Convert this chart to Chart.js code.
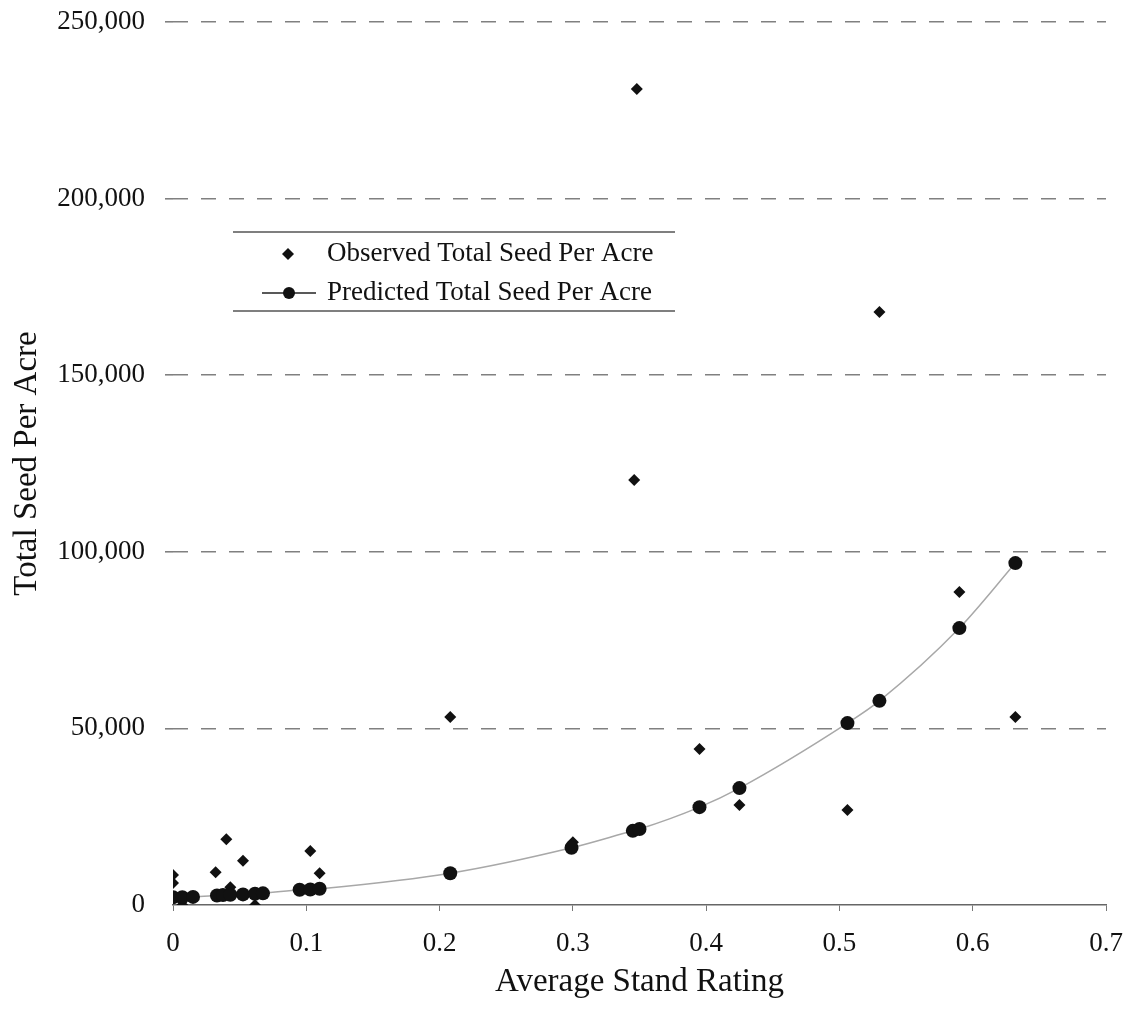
<!DOCTYPE html>
<html>
<head>
<meta charset="utf-8">
<title>Total Seed Per Acre</title>
<script src="https://cdn.jsdelivr.net/npm/chart.js@4.4.1/dist/chart.umd.min.js"></script>
<style>
    html, body { margin: 0; padding: 0; background: #ffffff; }
    #wrap { width: 1134px; height: 1015px; }
</style>
</head>
<body>
<div id="wrap"><canvas id="seed-chart" width="1134" height="1015"></canvas></div>
<script>
// Observed values (diamonds)
const observedX = [0, 0, 0.007, 0.032, 0.040, 0.043, 0.0525, 0.0615, 0.103, 0.110,
    0.208, 0.300, 0.346, 0.348, 0.395, 0.425, 0.506, 0.530, 0.590, 0.632];
const observedY = [6200, 8500, 0, 9300, 18600, 5000, 12500, 0, 15300, 9000,
    53200, 17800, 120300, 231000, 44200, 28300, 26900, 167900, 88600, 53200];

// Predicted values (circles + curve)
const predictedX = [0, 0.007, 0.015, 0.033, 0.0375, 0.043, 0.0525, 0.0615, 0.0675,
    0.095, 0.103, 0.110, 0.208, 0.299, 0.345, 0.350, 0.395, 0.425, 0.506, 0.530, 0.590, 0.632];
const predictedY = [2200, 2200, 2300, 2700, 2800, 2900, 3000, 3200, 3300,
    4300, 4400, 4600, 9000, 16200, 21000, 21500, 27700, 33100, 51500, 57800, 78400, 96800];

// Axis ticks
const yTicks = [0, 50000, 100000, 150000, 200000, 250000];
const xTicks = [0, 0.1, 0.2, 0.3, 0.4, 0.5, 0.6, 0.7];

const legendLabels = ['Observed Total Seed Per Acre', 'Predicted Total Seed Per Acre'];

const fonte = 'Liberation Serif';
const toPoints = (xs, ys) => xs.map((x, i) => ({ x: x, y: ys[i] }));

// Legenda desenhada dentro da área do gráfico
const legendaPlugin = {
    id: 'legendaInterna',
    afterDraw(chart) {
        const ctx = chart.ctx;
        ctx.save();
        ctx.strokeStyle = '#555';
        ctx.lineWidth = 1.5;
        ctx.beginPath();
        ctx.moveTo(233, 232); ctx.lineTo(675, 232);
        ctx.moveTo(233, 311); ctx.lineTo(675, 311);
        ctx.stroke();

        // diamond symbol
        ctx.fillStyle = '#111';
        ctx.beginPath();
        ctx.moveTo(288, 248); ctx.lineTo(294, 254); ctx.lineTo(288, 260); ctx.lineTo(282, 254);
        ctx.closePath();
        ctx.fill();

        // line + circle symbol
        ctx.strokeStyle = '#222';
        ctx.lineWidth = 1.5;
        ctx.beginPath();
        ctx.moveTo(262, 293); ctx.lineTo(316, 293);
        ctx.stroke();
        ctx.beginPath();
        ctx.arc(289, 293, 6, 0, Math.PI * 2);
        ctx.fill();

        ctx.font = '27px "' + fonte + '"';
        ctx.textBaseline = 'middle';
        ctx.textAlign = 'left';
        ctx.fillText(legendLabels[0], 327, 254);
        ctx.fillText(legendLabels[1], 327, 293);
        ctx.restore();
    }
};

new Chart(document.getElementById('seed-chart').getContext('2d'), {
    type: 'scatter',
    data: {
        datasets: [{
            label: legendLabels[1],
            data: toPoints(predictedX, predictedY),
            showLine: true,
            borderColor: '#a8a8a8',
            borderWidth: 1.5,
            cubicInterpolationMode: 'monotone',
            pointStyle: 'circle',
            pointRadius: 7,
            pointBackgroundColor: '#111',
            pointBorderColor: '#111',
            pointBorderWidth: 0,
            order: 1
        }, {
            label: legendLabels[0],
            data: toPoints(observedX, observedY),
            showLine: false,
            pointStyle: 'rectRot',
            pointRadius: 6,
            pointBackgroundColor: '#111',
            pointBorderColor: '#111',
            pointBorderWidth: 0,
            order: 2
        }]
    },
    options: {
        responsive: false,
        animation: false,
        layout: { padding: { top: 22, right: 28, left: 0, bottom: 0 } },
        plugins: {
            legend: { display: false },
            tooltip: { enabled: false }
        },
        scales: {
            x: {
                type: 'linear',
                min: 0,
                max: 0.7,
                afterBuildTicks: (scale) => { scale.ticks = xTicks.map(v => ({ value: v })); },
                afterFit: (scale) => {
                    scale.height = 110;
                    scale.paddingLeft = 0;
                    scale.paddingRight = 0;
                },
                grid: { drawOnChartArea: false, drawTicks: true, tickLength: 6, color: '#777' },
                border: { display: true, color: '#666', width: 1.5 },
                ticks: {
                    padding: 17,
                    color: '#111',
                    font: { family: fonte, size: 27 },
                    callback: (v) => String(Math.round(v * 10) / 10)
                },
                title: {
                    display: true,
                    text: 'Average Stand Rating',
                    color: '#111',
                    font: { family: fonte, size: 33 },
                    padding: { top: 0, bottom: 13 }
                }
            },
            y: {
                type: 'linear',
                min: 0,
                max: 250000,
                afterBuildTicks: (scale) => { scale.ticks = yTicks.map(v => ({ value: v })); },
                afterFit: (scale) => {
                    scale.width = 173;
                    scale.paddingTop = 0;
                    scale.paddingBottom = 0;
                },
                grid: {
                    drawTicks: true,
                    tickLength: 8,
                    color: (c) => (c.tick && c.tick.value === 0) ? 'rgba(0,0,0,0)' : '#808080',
                    lineWidth: 1.6,
                    tickBorderDash: []
                },
                border: { display: false, dash: [15, 13] },
                ticks: {
                    padding: 20,
                    color: '#111',
                    font: { family: fonte, size: 27 },
                    callback: (v) => v.toLocaleString('en-US')
                },
                title: {
                    display: true,
                    text: 'Total Seed Per Acre',
                    color: '#111',
                    font: { family: fonte, size: 33 },
                    padding: { top: 8, bottom: 0 }
                }
            }
        }
    },
    plugins: [legendaPlugin]
});
</script>
</body>
</html>
